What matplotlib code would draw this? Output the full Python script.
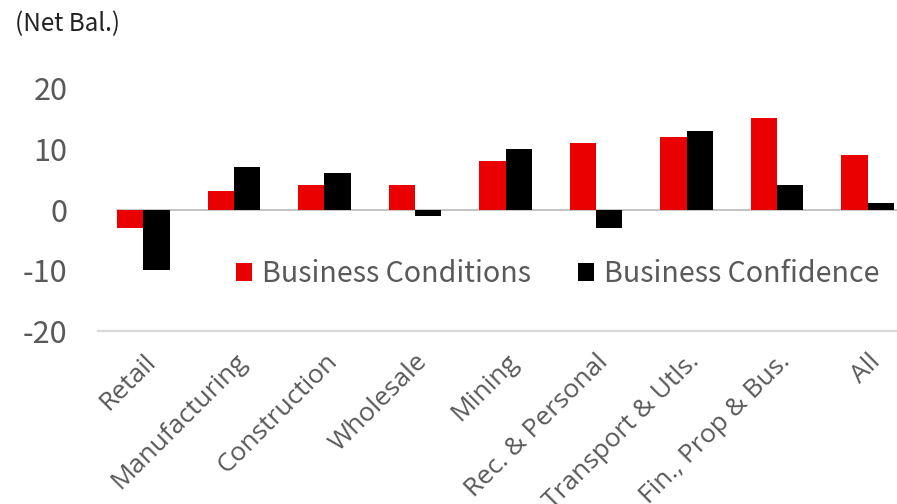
import matplotlib.pyplot as plt
import numpy as np

sectors = ['Retail', 'Manufacturing', 'Construction', 'Wholesale', 'Mining',
           'Rec. & Personal', 'Transport & Utls.', 'Fin., Prop & Bus.', 'All']
conditions = [-3, 3, 4, 4, 8, 11, 12, 15, 9]
confidence = [-10, 7, 6, -1, 10, -3, 13, 4, 1]
y_ticks = [-20, -10, 0, 10, 20]

RED = '#EA0000'
GREY_TEXT = '#595959'
SANS = ['Noto Sans CJK JP', 'DejaVu Sans']

fig = plt.figure(figsize=(8.97, 5.04), dpi=100)
ax = fig.add_axes([98 / 897, 173 / 504, 815 / 897, 243 / 504])

x = np.arange(len(sectors))
w = 0.29
ax.bar(x - w / 2, conditions, w, color=RED, label='Business Conditions', zorder=3)
ax.bar(x + w / 2, confidence, w, color='black', label='Business Confidence', zorder=3)

ax.set_xlim(-0.5, len(sectors) - 0.5)
ax.set_ylim(-20, 20)
ax.set_yticks(y_ticks)
ax.set_yticklabels([str(v) for v in y_ticks], family=SANS, fontsize=22, color=GREY_TEXT)
ax.tick_params(axis='y', length=0, pad=22)

ax.set_xticks(x)
ax.set_xticklabels(sectors, family=['Open Sans', 'DejaVu Sans'], fontsize=19,
                   color=GREY_TEXT, rotation=45, ha='right', rotation_mode='anchor')
ax.tick_params(axis='x', length=0, pad=13)

for side in ['top', 'right', 'left']:
    ax.spines[side].set_visible(False)
ax.spines['bottom'].set_color('#D9D9D9')
ax.spines['bottom'].set_linewidth(1.6)
ax.axhline(0, xmin=0.023, color='#BFBFBF', lw=1.3, zorder=2)

ax.legend(loc='center left', bbox_to_anchor=(236 / 897, 1 - 274 / 504),
          bbox_transform=fig.transFigure, ncol=2, frameon=False,
          prop={'family': SANS, 'size': 20.6}, labelcolor=GREY_TEXT,
          handlelength=0.55, handleheight=0.6, handletextpad=0.35,
          columnspacing=1.65, borderpad=0, borderaxespad=0)

fig.text(15 / 897, 1 - 24 / 504, '(Net Bal.)', family=SANS, fontsize=17.4,
         color='#222222', ha='left', va='center')

fig.savefig('out.png', dpi=100)
